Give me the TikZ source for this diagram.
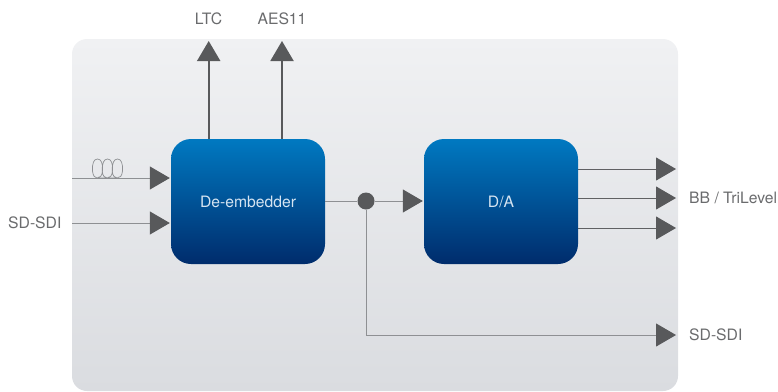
\documentclass[tikz,border=0pt]{standalone}
\usepackage{fontspec}
\setmainfont{TeX Gyre Heros}
\usetikzlibrary{arrows.meta,calc}
\definecolor{tipc}{HTML}{58595B}
\definecolor{wirec}{HTML}{8E9093}
\definecolor{labelc}{HTML}{6A6B6D}
\definecolor{panelTop}{HTML}{F0F1F3}
\definecolor{panelBot}{HTML}{DADCE0}
\definecolor{blueTop}{HTML}{0079C1}
\definecolor{blueBot}{HTML}{002C6C}
\definecolor{blockText}{HTML}{D5E4F1}
\tikzset{
  x=1pt,y=-1pt,
  panel/.style={draw=none,rounded corners=15pt,top color=panelTop,bottom color=panelBot,minimum width=606pt,minimum height=352pt,inner sep=0pt},
  blockbox/.style={draw=none,rounded corners=20pt,top color=blueTop,bottom color=blueBot,minimum width=154pt,minimum height=125pt,inner sep=0pt,text=blockText,font=\fontsize{15.7}{18}\selectfont},
  lbl/.style={text=labelc,inner sep=0pt,font=\fontsize{15.7}{18}\selectfont},
  wire/.style={draw=wirec,line width=1pt,shorten >=1pt,-{Triangle[length=20pt,width=23pt,color=tipc]}},
  plain/.style={draw=wirec,line width=1pt},
  upwire/.style={draw=tipc,line width=2pt,-{Triangle[length=20pt,width=23pt,color=tipc]}},
  outwire/.style={draw=tipc!85!wirec,line width=1pt,-{Triangle[length=20pt,width=23pt,color=tipc]}},
  coil/.style={draw=wirec,line width=.7pt},
  dotnode/.style={circle,fill=tipc,draw=none,minimum size=17pt,inner sep=0pt}
}
\begin{document}
\begin{tikzpicture}
\useasboundingbox (0,0) rectangle (778,391);
\node[panel] (bg) at (375,215) {};
\node[blockbox] (dem) at (248,201.5) {De-embedder};
\node[blockbox] (da) at (501,201.5) {D/A};
\node[dotnode] (dot) at (366,201) {};
\node[lbl] (ltc) at (208.5,19) {LTC};
\node[lbl] (aes) at (282,19) {AES11};
\node[lbl,anchor=west] (bb) at (689,198) {BB / TriLevel};
\node[lbl,anchor=west] (sdo) at (689,335) {SD-SDI};
\node[lbl,anchor=west] (sdi) at (8,223) {SD-SDI};
% free ends
\coordinate (inA) at (72,178);
\coordinate (inB) at (72,223);
\coordinate (upA) at (208.7,41);
\coordinate (upB) at (282,41);
\coordinate (outA) at (676,169);
\coordinate (outB) at (676,198);
\coordinate (outC) at (676,228);
\coordinate (outD) at (676,335);
\coordinate (corner) at (366,335);
% coil
\draw[coil] (97,178) .. controls (100,178) and (102,176) .. (102.5,171)
  .. controls (103,163) and (101,159) .. (97.5,159)
  .. controls (94,159) and (92,163) .. (92.5,171)
  .. controls (93,176) and (95,178) .. (97,178)
  -- (107,178) .. controls (110,178) and (112,176) .. (112.5,171)
  .. controls (113,163) and (111,159) .. (107.5,159)
  .. controls (104,159) and (102,163) .. (102.2,171)
  .. controls (102.5,176) and (105,178) .. (107,178)
  -- (117,178) .. controls (120,178) and (122,176) .. (122.5,171)
  .. controls (123,163) and (121,159) .. (117.5,159)
  .. controls (114,159) and (112,163) .. (112.2,171)
  .. controls (112.5,176) and (115,178) .. (117,178);
% inputs
\draw[wire] (inA) -- (inA -| dem.west);
\draw[wire] (inB) -- (inB -| dem.west);
% tops
\draw[upwire] (upA |- dem.north) -- (upA);
\draw[upwire] (upB |- dem.north) -- (upB);
% middle
\draw[plain] (dem.east |- dot) -- (dot);
\draw[wire] (dot) -- (dot -| da.west);
\draw[plain] (dot) -- (corner);
\draw[wire,shorten >=0pt] (corner) -- (outD);
% outputs
\draw[outwire] (outA -| da.east) -- (outA);
\draw[outwire] (outB -| da.east) -- (outB);
\draw[outwire] (outC -| da.east) -- (outC);
\end{tikzpicture}
\end{document}
